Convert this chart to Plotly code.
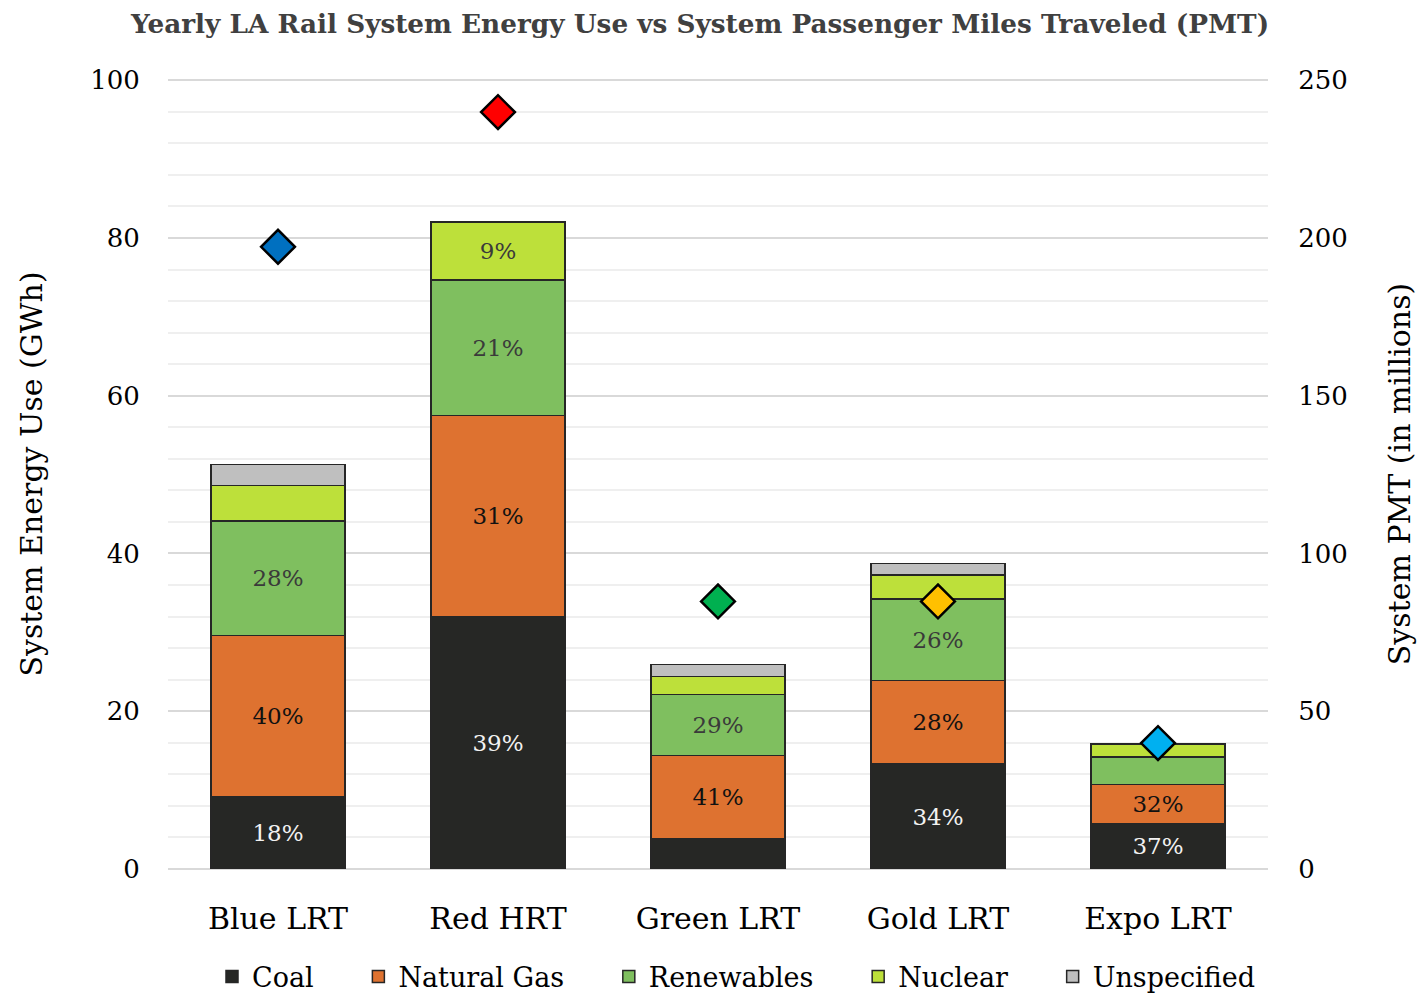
import plotly.graph_objects as go

categories = ["Blue LRT", "Red HRT", "Green LRT", "Gold LRT", "Expo LRT"]
coal = [9.1, 32.0, 3.8, 13.3, 5.8]
natural_gas = [20.5, 25.5, 10.6, 10.6, 4.9]
renewables = [14.5, 17.2, 7.7, 10.3, 3.5]
nuclear = [4.5, 7.3, 2.3, 3.1, 1.6]
unspecified = [2.7, 0.0, 1.5, 1.4, 0.1]

coal_lbl = ["18%", "39%", "", "34%", "37%"]
gas_lbl = ["40%", "31%", "41%", "28%", "32%"]
ren_lbl = ["28%", "21%", "29%", "26%", ""]
nuc_lbl = ["", "9%", "", "", ""]
uns_lbl = ["", "", "", "", ""]

pmt = [197.2, 239.9, 84.8, 84.8, 39.9]
pmt_colors = ["#0070C0", "#FF0000", "#00B050", "#FFC000", "#00B0F0"]

FONT = "DejaVu Serif"
PAD = "\u00a0" * 4 + "\u2009"

series = [
    ("Coal", coal, coal_lbl, "#262725", "#f2f2f2"),
    ("Natural Gas", natural_gas, gas_lbl, "#DE7230", "#111111"),
    ("Renewables", renewables, ren_lbl, "#7FBF5F", "#3a3a3a"),
    ("Nuclear", nuclear, nuc_lbl, "#BDE03A", "#3a3a3a"),
    ("Unspecified", unspecified, uns_lbl, "#BFBFBF", "#3a3a3a"),
]

fig = go.Figure()
for i, (name, vals, lbl, col, tcol) in enumerate(series):
    fig.add_trace(go.Bar(
        x=categories, y=vals, name=name + (PAD if i < len(series) - 1 else ""),
        marker=dict(color=col, line=dict(color="#262626", width=1.5)),
        text=lbl, textposition="inside", insidetextanchor="middle",
        textangle=0, constraintext="none",
        textfont=dict(family=FONT, size=23, color=tcol),
        hoverinfo="skip",
    ))

fig.add_trace(go.Scatter(
    x=categories, y=pmt, yaxis="y2", mode="markers", showlegend=False,
    marker=dict(symbol="diamond", size=26, color=pmt_colors,
                line=dict(color="#000000", width=2.5)),
))

W, H = 1417, 987  # page body adds an 8px offset
fig.update_layout(
    width=W, height=H,
    barmode="stack", bargap=0.39,
    plot_bgcolor="white", paper_bgcolor="white",
    margin=dict(l=160, r=157, t=71, b=126, autoexpand=False),
    font=dict(family=FONT, color="#000000"),
    title=dict(text="<b>Yearly LA Rail System Energy Use vs System Passenger Miles Traveled (PMT)</b>",
               x=(700 - 8) / W, xanchor="center", xref="container",
               y=1 - 16 / H, yanchor="middle", yref="container",
               font=dict(family=FONT, size=26.3, color="#404040")),
    xaxis=dict(tickfont=dict(family=FONT, size=30), showline=False,
               ticks="outside", ticklen=23, tickcolor="rgba(0,0,0,0)",
               showgrid=False, automargin=False),
    yaxis=dict(range=[0, 100.15], tickvals=[0, 20, 40, 60, 80, 100],
               tickfont=dict(family=FONT, size=26),
               gridcolor="#d9d9d9", gridwidth=1.5, zeroline=True, zerolinecolor="#d9d9d9",
               zerolinewidth=1.5, ticks="outside", ticklen=22, tickcolor="rgba(0,0,0,0)",
               automargin=False,
               minor=dict(tickvals=[v for v in range(4, 100, 4) if v % 20 != 0],
                          showgrid=True, gridcolor="#efefef", gridwidth=1.5, ticks=""),
               title=dict(text="System Energy Use (GWh)", font=dict(family=FONT, size=30),
                          standoff=38)),
    yaxis2=dict(range=[0, 250.375], tickvals=[0, 50, 100, 150, 200, 250], overlaying="y",
                side="right", showgrid=False, zeroline=False,
                tickfont=dict(family=FONT, size=26), automargin=False,
                ticks="outside", ticklen=24, tickcolor="rgba(0,0,0,0)",
                title=dict(text="System PMT (in millions)", font=dict(family=FONT, size=30),
                           standoff=42)),
    legend=dict(orientation="h", x=(736 - 168) / 1100, xanchor="center",
                y=(861 - 969) / 790, yanchor="middle",
                font=dict(family=FONT, size=27), traceorder="normal",
                itemwidth=30, bgcolor="rgba(0,0,0,0)"),
)

fig.write_html("out.html")
